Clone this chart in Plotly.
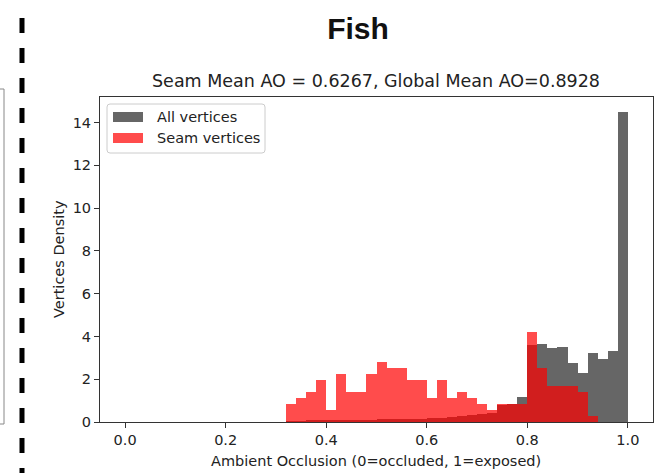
import plotly.graph_objects as go

# ---------------- data ----------------
bin_left = [0.32, 0.34, 0.36, 0.38, 0.40, 0.42, 0.44, 0.46, 0.48, 0.50,
            0.52, 0.54, 0.56, 0.58, 0.60, 0.62, 0.64, 0.66, 0.68, 0.70,
            0.72, 0.74, 0.76, 0.78, 0.80, 0.82, 0.84, 0.86, 0.88, 0.90,
            0.92, 0.94, 0.96, 0.98]
bin_width = 0.02

all_density = [0.03, 0.04, 0.05, 0.06, 0.07, 0.08, 0.09, 0.10, 0.11, 0.13,
               0.12, 0.13, 0.14, 0.16, 0.18, 0.20, 0.23, 0.27, 0.31, 0.36,
               0.42, 0.78, 0.82, 1.18, 3.60, 3.63, 3.44, 3.52, 2.78, 2.27,
               3.21, 2.93, 3.33, 14.47]

seam_density = [0.83, 1.10, 1.41, 1.97, 0.55, 2.25, 1.41, 1.41, 2.25, 2.82,
                2.53, 2.53, 1.97, 1.97, 1.10, 1.97, 1.10, 1.41, 1.10, 0.83,
                0.55, 0.83, 0.83, 0.83, 4.23, 2.53, 1.69, 1.69, 1.69, 1.41,
                0.27, 0.0, 0.0, 0.0]

series_names = ["All vertices", "Seam vertices"]
x_ticks = [0.0, 0.2, 0.4, 0.6, 0.8, 1.0]
y_ticks = [0, 2, 4, 6, 8, 10, 12, 14]
suptitle = "Fish"
subtitle = "Seam Mean AO = 0.6267, Global Mean AO=0.8928"
x_label = "Ambient Occlusion (0=occluded, 1=exposed)"
y_label = "Vertices Density"

# ---------------- styling ----------------
W, H = 654, 473
GREY = "#666666"
RED = "rgba(255,0,0,0.7)"
FONT = "DejaVu Sans"
TXT = "#222222"

def px(x):
    return x / W

def py(y):
    return 1 - y / H

centers = [b + bin_width / 2 for b in bin_left]

fig = go.Figure()
fig.add_trace(go.Bar(x=centers, y=all_density, width=bin_width,
                     marker=dict(color=GREY, line=dict(width=0)),
                     name=series_names[0], showlegend=False))
fig.add_trace(go.Bar(x=centers, y=seam_density, width=bin_width,
                     marker=dict(color=RED, line=dict(width=0)),
                     name=series_names[1], showlegend=False))

ymax = max(max(all_density), max(seam_density)) * 1.05

axis_common = dict(showline=True, mirror=True, linecolor="#333333", linewidth=1,
                   showgrid=False, zeroline=False, ticks="outside", ticklen=5,
                   tickwidth=1, tickcolor="#333333", automargin=False,
                   tickfont=dict(family=FONT, size=14.5, color=TXT))

fig.update_layout(
    template="none",
    width=W, height=H,
    margin=dict(l=0, r=0, t=0, b=0, pad=0),
    paper_bgcolor="white", plot_bgcolor="white",
    barmode="overlay", bargap=0,
    xaxis=dict(domain=[px(100), px(653)], range=[-0.05, 1.05],
               tickvals=x_ticks, ticktext=[f"{v:.1f}" for v in x_ticks],
               **axis_common),
    yaxis=dict(domain=[py(422), py(97)], range=[0, ymax],
               tickvals=y_ticks, ticktext=[str(v) for v in y_ticks],
               **axis_common),
    title=dict(text=f"<b>{suptitle}</b>", x=px(358), y=py(28),
               xanchor="center", yanchor="middle", xref="paper", yref="paper",
               font=dict(family="Liberation Sans, Arial", size=30, color="#111111")),
)

annotations = [
    dict(text=subtitle, x=px(376), y=py(81), xref="paper", yref="paper",
         xanchor="center", yanchor="middle", showarrow=False,
         font=dict(family=FONT, size=17.5, color=TXT)),
    dict(text=x_label, x=px(376), y=py(461), xref="paper", yref="paper",
         xanchor="center", yanchor="middle", showarrow=False,
         font=dict(family=FONT, size=14.5, color=TXT)),
    dict(text=y_label, x=px(59), y=py(259), xref="paper", yref="paper",
         xanchor="center", yanchor="middle", showarrow=False, textangle=-90,
         font=dict(family=FONT, size=14.5, color=TXT)),
]

# manual legend (matplotlib style)
lx0, ly0, lx1, ly1, r = 107, 104, 265, 153, 3
path = (f"M {px(lx0 + r)},{py(ly0)} L {px(lx1 - r)},{py(ly0)} "
        f"Q {px(lx1)},{py(ly0)} {px(lx1)},{py(ly0 + r)} "
        f"L {px(lx1)},{py(ly1 - r)} Q {px(lx1)},{py(ly1)} {px(lx1 - r)},{py(ly1)} "
        f"L {px(lx0 + r)},{py(ly1)} Q {px(lx0)},{py(ly1)} {px(lx0)},{py(ly1 - r)} "
        f"L {px(lx0)},{py(ly0 + r)} Q {px(lx0)},{py(ly0)} {px(lx0 + r)},{py(ly0)} Z")
shapes = [
    dict(type="path", path=path, xref="paper", yref="paper",
         line=dict(color="#cccccc", width=1), fillcolor="rgba(255,255,255,0.8)",
         layer="above"),
]
legend_colors = [GREY, RED]
row_y = [117, 138]
for name, col, yc in zip(series_names, legend_colors, row_y):
    shapes.append(dict(type="rect", xref="paper", yref="paper",
                       x0=px(113), x1=px(143), y0=py(yc - 5), y1=py(yc + 5),
                       fillcolor=col, line=dict(width=0), layer="above"))
    annotations.append(dict(text=name, x=px(155), y=py(yc), xref="paper", yref="paper",
                            xanchor="left", yanchor="middle", showarrow=False,
                            font=dict(family=FONT, size=14.5, color=TXT)))

# decorations outside the axes: neighbouring panel edge and dashed separator
shapes.append(dict(type="path", xref="paper", yref="paper",
                   path=f"M {px(0)},{py(89)} L {px(4)},{py(89)} L {px(4)},{py(424)} L {px(0)},{py(424)}",
                   line=dict(color="#888888", width=1)))
shapes.append(dict(type="line", xref="paper", yref="paper",
                   x0=px(22), x1=px(22), y0=py(18), y1=py(480),
                   line=dict(color="black", width=5, dash="15px,15px")))

fig.update_layout(shapes=shapes, annotations=annotations)

fig.write_html("out.html")
